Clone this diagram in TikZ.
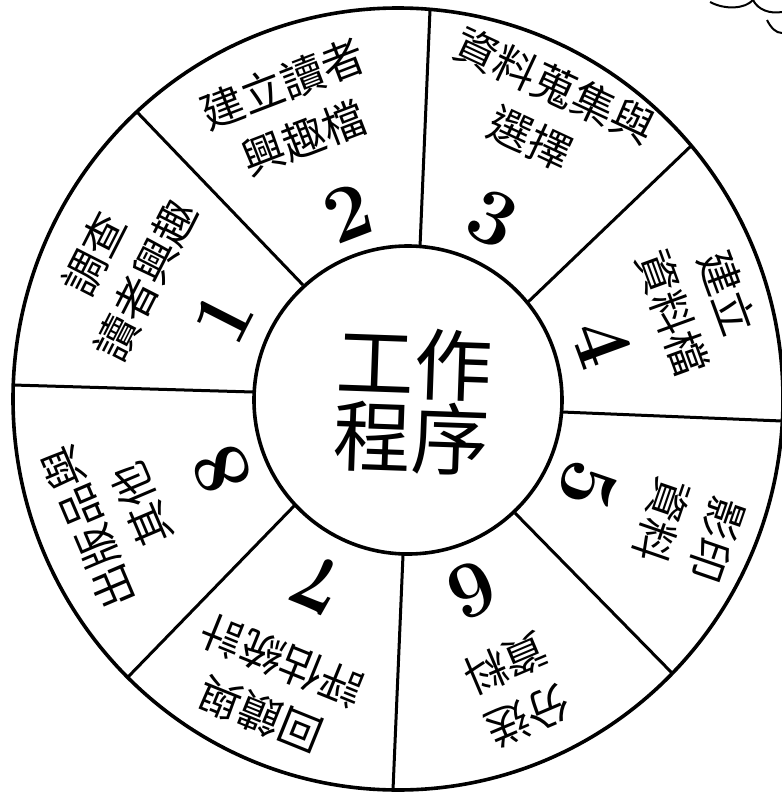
\documentclass[tikz,border=0pt]{standalone}
\usepackage{fontspec}
\newfontfamily\cjk{Noto Sans CJK TC}
\usepackage{tikz}

\begin{document}
\begin{tikzpicture}[
  x=0.5pt, y=-0.5pt,
  rim/.style={line width=1.8pt},
  spoke/.style={line width=1.5pt},
  lbl/.style={font=\cjk\fontsize{21.5}{29}\selectfont, align=center, inner sep=0pt},
  num/.style={font=\fontsize{40}{40}\selectfont\bfseries, inner sep=0pt},
  hub/.style={font=\cjk\fontsize{39}{37}\selectfont, align=center, inner sep=0pt},
  doodle/.style={line width=1pt},
]
  \useasboundingbox (0,0) rectangle (782,793);

  % wheel
  \draw[rim] (398,399) ellipse [x radius=385, y radius=391];
  \draw[rim] (408,400) circle [radius=154];

  % spoke ends
  \coordinate (o1) at (137,112); \coordinate (i1) at (303,285);
  \coordinate (o2) at (430,10);  \coordinate (i2) at (420,247);
  \coordinate (o3) at (692,145); \coordinate (i3) at (527,303);
  \coordinate (o4) at (782,421); \coordinate (i4) at (562,412);
  \coordinate (o5) at (672,673); \coordinate (i5) at (515,513);
  \coordinate (o6) at (393,790); \coordinate (i6) at (403,555);
  \coordinate (o7) at (128,677); \coordinate (i7) at (295,505);
  \coordinate (o8) at (13,385);  \coordinate (i8) at (253,392);
  \foreach \k in {1,...,8}
    \draw[spoke] (o\k) -- (i\k);

  % steps
  \node[lbl, rotate=63]   (t1) at (120,267) {調查\\讀者興趣};
  \node[num, rotate=63]   (n1) at (223,318) {1};
  \node[lbl, rotate=21]   (t2) at (293,111) {建立讀者\\興趣檔};
  \node[num, rotate=21]   (n2) at (348,213) {2};
  \node[lbl, rotate=-25]  (t3) at (543,112) {資料蒐集與\\選擇};
  \node[num, rotate=-25]  (n3) at (493,219) {3};
  \node[lbl, rotate=-70]  (t4) at (700,303) {建立\\資料檔};
  \node[num, rotate=-70]  (n4) at (602,343) {4};
  \node[lbl, rotate=-109] (t5) at (689,530) {影印\\資料};
  \node[num, rotate=-109] (n5) at (588,485) {5};
  \node[lbl, rotate=-157] (t6) at (517,690) {分送\\資料};
  \node[num, rotate=-157] (n6) at (472,590) {6};
  \node[lbl, rotate=158]  (t7) at (271,688) {回饋與\\評估統計};
  \node[num, rotate=158]  (n7) at (318,585) {7};
  \node[lbl, rotate=113]  (t8) at (115,516) {出版品與\\其他};
  \node[num, rotate=113]  (n8) at (222,470) {8};

  % centre
  \node[hub, rotate=-2] (hub) at (413,401) {工作\\程序};

  % corner sketch
  \draw[doodle] (710,2) .. controls (725,10) and (745,9) .. (753,0);
  \draw[doodle] (753,0) .. controls (758,10) and (770,14) .. (782,12);
  \draw[doodle] (767,20) .. controls (771,28) and (776,33) .. (782,33);
\end{tikzpicture}
\end{document}
